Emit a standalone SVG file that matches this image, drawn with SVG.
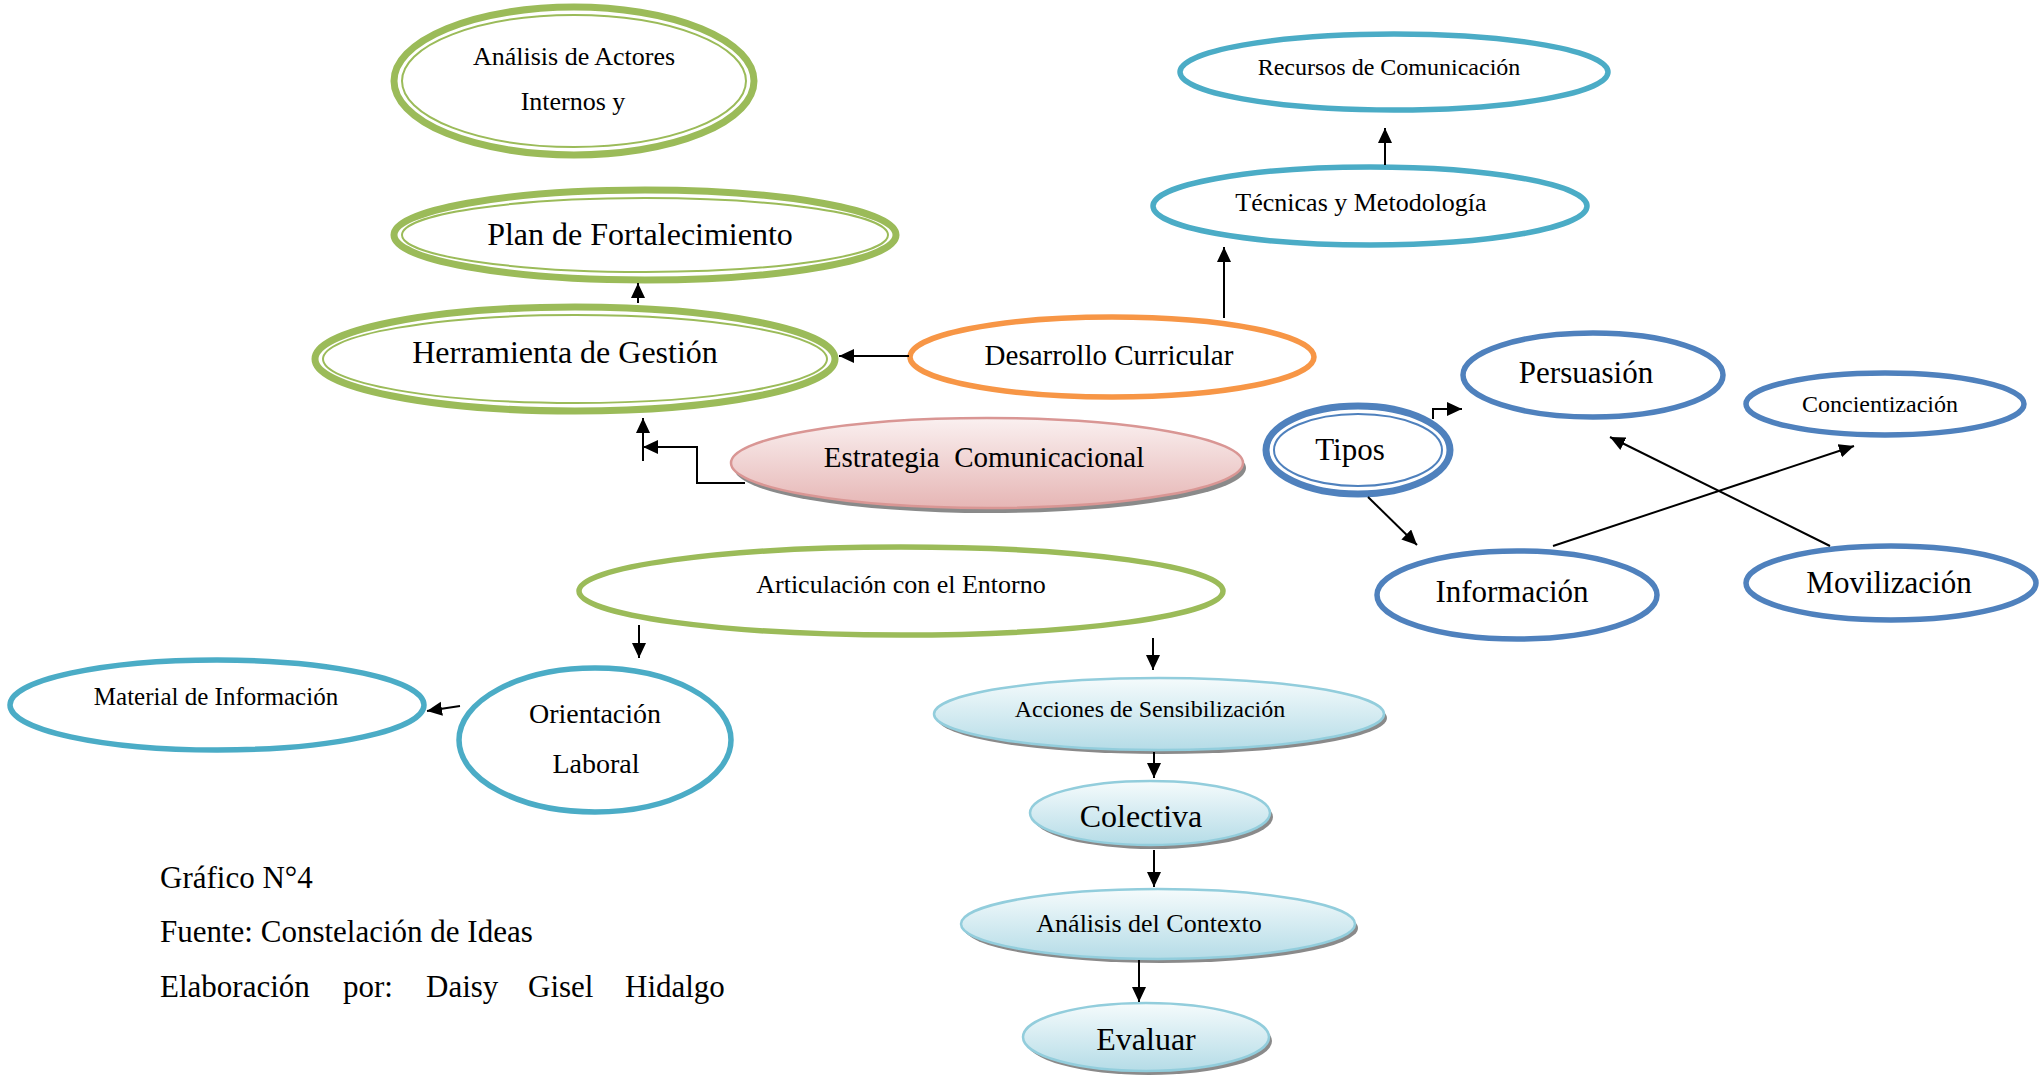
<svg xmlns="http://www.w3.org/2000/svg" width="2044" height="1080" viewBox="0 0 2044 1080">
<defs>
<marker id="ah" markerUnits="userSpaceOnUse" markerWidth="16" markerHeight="16" refX="15" refY="7" orient="auto">
<path d="M0,0 L15,7 L0,14 z" fill="#000"/>
</marker>
<linearGradient id="gPink" x1="0" y1="0" x2="0" y2="1">
<stop offset="0" stop-color="#FAF0F0"/>
<stop offset="1" stop-color="#E6B6B5"/>
</linearGradient>
<linearGradient id="gBlue" x1="0" y1="0" x2="0" y2="1">
<stop offset="0" stop-color="#F5FBFC"/>
<stop offset="1" stop-color="#B5DCE7"/>
</linearGradient>
</defs>
<style>
text{font-family:"Liberation Serif","Times New Roman",serif;fill:#000;text-anchor:middle}
.foot{text-anchor:start;font-size:31px}
.gOut{fill:#fff;stroke:#9BBB59;stroke-width:7}
.gIn{fill:none;stroke:#9BBB59;stroke-width:2}
.green{fill:#fff;stroke:#9BBB59;stroke-width:5.5}
.orange{fill:#fff;stroke:#F79646;stroke-width:5.5}
.teal{fill:#fff;stroke:#4BACC6;stroke-width:5.5}
.blue{fill:#fff;stroke:#4F81BD;stroke-width:5.5}
.bOut{fill:#fff;stroke:#4F81BD;stroke-width:7}
.bIn{fill:none;stroke:#4F81BD;stroke-width:2}
.pink{fill:url(#gPink);stroke:#D99694;stroke-width:2.5}
.lblue{fill:url(#gBlue);stroke:#92CDDC;stroke-width:2.5}
.shadow{fill:#8A8A8A}
.conn path{fill:none;stroke:#000;stroke-width:2}
.arr{marker-end:url(#ah)}
</style>
<rect width="2044" height="1080" fill="#fff"/>

<g id="n-analisis-actores">
<ellipse class="gOut" cx="574" cy="81" rx="180" ry="74"/>
<ellipse class="gIn" cx="574" cy="81" rx="172" ry="66"/>
<text x="574" y="65" font-size="26">Análisis de Actores</text>
<text x="573" y="110" font-size="26">Internos y</text>
</g>

<g id="n-plan">
<ellipse class="gOut" cx="645" cy="235" rx="251" ry="45"/>
<ellipse class="gIn" cx="645" cy="235" rx="243" ry="37"/>
<text x="640" y="245" font-size="32">Plan de Fortalecimiento</text>
</g>

<g id="n-herramienta">
<ellipse class="gOut" cx="575" cy="359" rx="260" ry="52"/>
<ellipse class="gIn" cx="575" cy="359" rx="252" ry="44"/>
<text x="565" y="363" font-size="32">Herramienta de Gestión</text>
</g>

<g id="n-desarrollo">
<ellipse class="orange" cx="1112" cy="357" rx="202" ry="40"/>
<text x="1109" y="365" font-size="29">Desarrollo Curricular</text>
</g>

<g id="n-tecnicas">
<ellipse class="teal" cx="1370" cy="206" rx="217" ry="39"/>
<text x="1361" y="211" font-size="26">Técnicas y Metodología</text>
</g>

<g id="n-recursos">
<ellipse class="teal" cx="1394" cy="72" rx="214" ry="38"/>
<text x="1389" y="75" font-size="24">Recursos de Comunicación</text>
</g>

<g id="n-estrategia">
<ellipse class="shadow" cx="990" cy="468" rx="256" ry="45"/>
<ellipse class="pink" cx="987" cy="463" rx="256" ry="45"/>
<text x="984" y="467" font-size="29" xml:space="preserve">Estrategia  Comunicacional</text>
</g>

<g id="n-tipos">
<ellipse class="bOut" cx="1358" cy="450" rx="92" ry="44"/>
<ellipse class="bIn" cx="1358" cy="450" rx="84" ry="36"/>
<text x="1350" y="460" font-size="31">Tipos</text>
</g>

<g id="n-persuasion">
<ellipse class="blue" cx="1593" cy="375" rx="130" ry="42"/>
<text x="1586" y="383" font-size="31">Persuasión</text>
</g>

<g id="n-concientizacion">
<ellipse class="blue" cx="1885" cy="404" rx="139" ry="31"/>
<text x="1880" y="412" font-size="24">Concientización</text>
</g>

<g id="n-informacion">
<ellipse class="blue" cx="1517" cy="595" rx="140" ry="44"/>
<text x="1512" y="602" font-size="31">Información</text>
</g>

<g id="n-movilizacion">
<ellipse class="blue" cx="1891" cy="583" rx="145" ry="37"/>
<text x="1889" y="593" font-size="31">Movilización</text>
</g>

<g id="n-articulacion">
<ellipse class="green" cx="901" cy="591" rx="322" ry="44"/>
<text x="901" y="593" font-size="26">Articulación con el Entorno</text>
</g>

<g id="n-material">
<ellipse class="teal" cx="217" cy="705" rx="207" ry="45"/>
<text x="216" y="705" font-size="25">Material de Información</text>
</g>

<g id="n-orientacion">
<ellipse class="teal" cx="595" cy="740" rx="136" ry="72"/>
<text x="595" y="723" font-size="28">Orientación</text>
<text x="596" y="773" font-size="28">Laboral</text>
</g>

<g id="n-acciones">
<ellipse class="shadow" cx="1162" cy="718" rx="225" ry="36"/>
<ellipse class="lblue" cx="1159" cy="714" rx="225" ry="36"/>
<text x="1150" y="717" font-size="24">Acciones de Sensibilización</text>
</g>

<g id="n-colectiva">
<ellipse class="shadow" cx="1153" cy="817" rx="120" ry="32"/>
<ellipse class="lblue" cx="1150" cy="813" rx="120" ry="32"/>
<text x="1141" y="827" font-size="32">Colectiva</text>
</g>

<g id="n-analisis-contexto">
<ellipse class="shadow" cx="1161" cy="928" rx="197" ry="35"/>
<ellipse class="lblue" cx="1158" cy="924" rx="197" ry="35"/>
<text x="1149" y="932" font-size="26">Análisis del Contexto</text>
</g>

<g id="n-evaluar">
<ellipse class="shadow" cx="1149" cy="1041" rx="123" ry="34"/>
<ellipse class="lblue" cx="1146" cy="1037" rx="123" ry="34"/>
<text x="1146" y="1050" font-size="32">Evaluar</text>
</g>

<g id="connectors" class="conn">
<path class="arr" d="M638,303 V283"/>
<path class="arr" d="M909,356 H839"/>
<path class="arr" d="M745,483 H697 V447 H643"/>
<path class="arr" d="M643,461 V418"/>
<path class="arr" d="M1224,318 V247"/>
<path class="arr" d="M1385,165 V128"/>
<path class="arr" d="M1433,419 V409 H1462"/>
<path class="arr" d="M1368,497 L1417,545"/>
<path class="arr" d="M1553,546 L1854,446"/>
<path class="arr" d="M1830,546 L1610,437"/>
<path class="arr" d="M639,625 V658"/>
<path class="arr" d="M1153,638 V670"/>
<path class="arr" d="M460,706 L427,711"/>
<path class="arr" d="M1154,752 V778"/>
<path class="arr" d="M1154,850 V887"/>
<path class="arr" d="M1139,960 V1002"/>
</g>

<g id="caption">
<text class="foot" x="160" y="888">Gráfico N°4</text>
<text class="foot" x="160" y="942">Fuente: Constelación de Ideas</text>
<text class="foot" y="997"><tspan x="160">Elaboración</tspan><tspan x="343">por:</tspan><tspan x="426">Daisy</tspan><tspan x="528">Gisel</tspan><tspan x="625">Hidalgo</tspan></text>
</g>
</svg>
